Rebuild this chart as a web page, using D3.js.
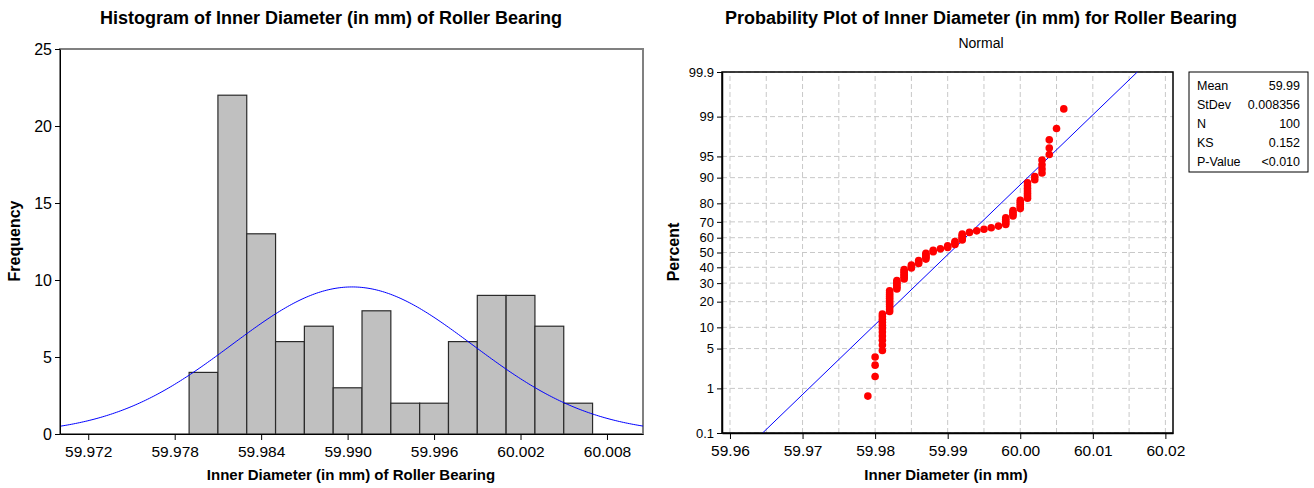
<!DOCTYPE html>
<html>
<head>
<meta charset="utf-8">
<script src="https://cdn.jsdelivr.net/npm/d3@7"></script>
<style>
body { margin: 0; background: #fff; }
text { font-family: "Liberation Sans", Arial, sans-serif; fill: #000; }
</style>
</head>
<body>
<svg id="chart" width="1314" height="488"></svg>
<script>
// histogram bins (start of each bin, width 0.002 mm) and frequencies
let binStarts = [59.979, 59.981, 59.983, 59.985, 59.987, 59.989, 59.991,
                 59.993, 59.995, 59.997, 59.999, 60.001, 60.003, 60.005]
let binCounts = [4, 22, 13, 6, 7, 3, 8, 2, 2, 6, 9, 9, 7, 2]
let binWidth = 0.002

// measured diameters and how many bearings had each value
let diameters = [59.979, 59.980, 59.981, 59.982, 59.983, 59.984, 59.985, 59.986, 59.987, 59.988,
                 59.989, 59.990, 59.991, 59.992, 59.993, 59.994, 59.995, 59.996, 59.997, 59.998,
                 59.999, 60.000, 60.001, 60.002, 60.003, 60.004, 60.005, 60.006]
let diameterCounts = [1, 3, 11, 11, 6, 7, 3, 3, 5, 2,
                      1, 2, 3, 5, 1, 1, 1, 1, 1, 5,
                      4, 5, 7, 2, 4, 3, 1, 1]

let histXTicks = [59.972, 59.978, 59.984, 59.990, 59.996, 60.002, 60.008]
let histYTicks = [0, 5, 10, 15, 20, 25]
let probXTicks = [59.96, 59.97, 59.98, 59.99, 60.00, 60.01, 60.02]
let probXGrid = [59.96, 59.965, 59.97, 59.975, 59.98, 59.985, 59.99, 59.995, 60.00, 60.005, 60.01, 60.015, 60.02]
let pctTicks = [0.1, 1, 5, 10, 20, 30, 40, 50, 60, 70, 80, 90, 95, 99, 99.9]

let statLabels = ['Mean', 'StDev', 'N', 'KS', 'P-Value']
let statValues = ['59.99', '0.008356', '100', '0.152', '<0.010']

let svg = d3.select('#chart')

// expand to the raw sample
let sample = []
diameters.forEach((d, i) => { for (let k = 0; k < diameterCounts[i]; k++) sample.push(d) })
let n = sample.length
let mean = d3.mean(sample)
let sd = d3.deviation(sample)

// inverse normal cdf (Acklam)
let probit = (p) => {
    let a = [-3.969683028665376e+01, 2.209460984245205e+02, -2.759285104469687e+02, 1.383577518672690e+02, -3.066479806614716e+01, 2.506628277459239e+00]
    let b = [-5.447609879822406e+01, 1.615858368580409e+02, -1.556989798598866e+02, 6.680131188771972e+01, -1.328068155288572e+01]
    let c = [-7.784894002430293e-03, -3.223964580411365e-01, -2.400758277161838e+00, -2.549732539343734e+00, 4.374664141464968e+00, 2.938163982698783e+00]
    let d = [7.784695709041462e-03, 3.224671290700398e-01, 2.445134137142996e+00, 3.754408661907416e+00]
    let pl = 0.02425
    if (p < pl) {
        let q = Math.sqrt(-2 * Math.log(p))
        return (((((c[0]*q+c[1])*q+c[2])*q+c[3])*q+c[4])*q+c[5]) / ((((d[0]*q+d[1])*q+d[2])*q+d[3])*q+1)
    }
    if (p > 1 - pl) {
        let q = Math.sqrt(-2 * Math.log(1 - p))
        return -(((((c[0]*q+c[1])*q+c[2])*q+c[3])*q+c[4])*q+c[5]) / ((((d[0]*q+d[1])*q+d[2])*q+d[3])*q+1)
    }
    let q = p - 0.5, r = q * q
    return (((((a[0]*r+a[1])*r+a[2])*r+a[3])*r+a[4])*r+a[5])*q / (((((b[0]*r+b[1])*r+b[2])*r+b[3])*r+b[4])*r+1)
}

// ---------------- histogram ----------------
let hx = d3.scaleLinear().domain([59.97004, 60.0105]).range([60, 643])
let hy = d3.scaleLinear().domain([0, 25]).range([434, 49])

let hist = svg.append('g')

hist.append('rect')
    .attr('x', hx.range()[0]).attr('y', hy(25))
    .attr('width', hx.range()[1] - hx.range()[0]).attr('height', hy(0) - hy(25))
    .attr('fill', 'none').attr('stroke', '#808080').attr('stroke-width', 2)

hist.selectAll('rect.bar')
    .data(binStarts)
    .enter()
    .append('rect')
    .attr('class', 'bar')
    .attr('x', (d) => hx(d))
    .attr('width', (d) => hx(d + binWidth) - hx(d))
    .attr('y', (d, i) => hy(binCounts[i]))
    .attr('height', (d, i) => hy(0) - hy(binCounts[i]))
    .attr('fill', '#c0c0c0')
    .attr('stroke', '#2a2a2a')
    .attr('stroke-width', 1.2)

// fitted normal curve, scaled to counts
let curveXs = d3.range(0, 301).map((i) => hx.domain()[0] + (hx.domain()[1] - hx.domain()[0]) * i / 300)
let normalLine = d3.line()
    .x((d) => hx(d))
    .y((d) => hy(n * binWidth * Math.exp(-0.5 * ((d - mean) / sd) ** 2) / (sd * Math.sqrt(2 * Math.PI))))
hist.append('path')
    .attr('d', normalLine(curveXs))
    .attr('fill', 'none').attr('stroke', '#0000ff').attr('stroke-width', 1)

let hxAxis = hist.append('g')
    .attr('transform', 'translate(0,' + hy(0) + ')')
    .call(d3.axisBottom(hx).tickValues(histXTicks).tickFormat(d3.format('.3f')).tickSize(6).tickSizeOuter(0))
let hyAxis = hist.append('g')
    .attr('transform', 'translate(' + hx.range()[0] + ',0)')
    .call(d3.axisLeft(hy).tickValues(histYTicks).tickSize(5).tickSizeOuter(0))
hxAxis.selectAll('text').attr('font-size', 15.5).attr('dy', '0.9em')
hyAxis.selectAll('text').attr('font-size', 16)
hist.selectAll('.domain').attr('stroke', '#000')
hist.selectAll('.tick line').attr('stroke', '#000')

hist.append('text').text('Histogram of Inner Diameter (in mm) of Roller Bearing')
    .attr('x', 331).attr('y', 24).attr('text-anchor', 'middle')
    .attr('font-size', 18).attr('font-weight', 'bold')
hist.append('text').text('Inner Diameter (in mm) of Roller Bearing')
    .attr('x', 351).attr('y', 480).attr('text-anchor', 'middle')
    .attr('font-size', 15).attr('font-weight', 'bold')
hist.append('text').text('Frequency')
    .attr('transform', 'translate(20,241) rotate(-90)').attr('text-anchor', 'middle')
    .attr('font-size', 16).attr('font-weight', 'bold')

// ---------------- probability plot ----------------
let px = d3.scaleLinear().domain([59.9589, 60.02105]).range([722, 1173])
let pz = d3.scaleLinear().domain([probit(0.001), probit(0.999)]).range([433, 72])
let py = (pct) => pz(probit(pct / 100))

let prob = svg.append('g')

prob.selectAll('line.vgrid')
    .data(probXGrid)
    .enter()
    .append('line')
    .attr('x1', (d) => px(d)).attr('x2', (d) => px(d))
    .attr('y1', pz.range()[0]).attr('y2', pz.range()[1])
    .attr('stroke', '#c8c8c8').attr('stroke-dasharray', '5,3')
prob.selectAll('line.hgrid')
    .data(pctTicks)
    .enter()
    .append('line')
    .attr('x1', px.range()[0]).attr('x2', px.range()[1])
    .attr('y1', (d) => py(d)).attr('y2', (d) => py(d))
    .attr('stroke', '#c8c8c8').attr('stroke-dasharray', '5,3')

prob.append('rect')
    .attr('x', px.range()[0]).attr('y', pz.range()[1])
    .attr('width', px.range()[1] - px.range()[0]).attr('height', pz.range()[0] - pz.range()[1])
    .attr('fill', 'none').attr('stroke', '#000').attr('stroke-width', 1.5)

// fitted line: x = mean + sd * z
let zEnds = pz.domain()
prob.append('line')
    .attr('x1', px(mean + sd * zEnds[0])).attr('y1', pz(zEnds[0]))
    .attr('x2', px(mean + sd * zEnds[1])).attr('y2', pz(zEnds[1]))
    .attr('stroke', '#0000ff').attr('stroke-width', 1)

// points at median ranks
let sorted = sample.slice().sort(d3.ascending)
prob.selectAll('circle')
    .data(sorted)
    .enter()
    .append('circle')
    .attr('cx', (d) => px(d))
    .attr('cy', (d, i) => py((i + 1 - 0.3) / (n + 0.4) * 100))
    .attr('r', 3.8)
    .attr('fill', '#ff0000')

let pxAxis = prob.append('g')
    .attr('transform', 'translate(0,' + pz.range()[0] + ')')
    .call(d3.axisBottom(px).tickValues(probXTicks).tickFormat(d3.format('.2f')).tickSize(6).tickSizeOuter(0))
let pyAxis = prob.append('g')
    .attr('transform', 'translate(' + px.range()[0] + ',0)')
    .call(d3.axisLeft(d3.scaleLinear().domain(pz.domain()).range(pz.range()))
        .tickValues(pctTicks.map((d) => probit(d / 100)))
        .tickFormat((d, i) => pctTicks[i])
        .tickSize(5).tickSizeOuter(0))
pxAxis.selectAll('text').attr('font-size', 15.5).attr('dy', '0.9em')
pyAxis.selectAll('text').attr('font-size', 13)
prob.selectAll('.domain').attr('stroke', '#000').attr('stroke-width', 1.5)
prob.selectAll('.tick line').attr('stroke', '#000')

prob.append('text').text('Probability Plot of Inner Diameter (in mm) for Roller Bearing')
    .attr('x', 981).attr('y', 24).attr('text-anchor', 'middle')
    .attr('font-size', 18).attr('font-weight', 'bold')
prob.append('text').text('Normal')
    .attr('x', 981).attr('y', 48).attr('text-anchor', 'middle')
    .attr('font-size', 14)
prob.append('text').text('Inner Diameter (in mm)')
    .attr('x', 946).attr('y', 480).attr('text-anchor', 'middle')
    .attr('font-size', 15).attr('font-weight', 'bold')
prob.append('text').text('Percent')
    .attr('transform', 'translate(679,252) rotate(-90)').attr('text-anchor', 'middle')
    .attr('font-size', 16).attr('font-weight', 'bold')

// stats box
let box = svg.append('g')
box.append('rect')
    .attr('x', 1189).attr('y', 72).attr('width', 119).attr('height', 100)
    .attr('fill', '#fff').attr('stroke', '#000').attr('stroke-width', 1)
box.selectAll('text.lab')
    .data(statLabels)
    .enter()
    .append('text')
    .attr('x', 1197).attr('y', (d, i) => 90 + i * 19)
    .attr('font-size', 12.5)
    .text((d) => d)
box.selectAll('text.val')
    .data(statValues)
    .enter()
    .append('text')
    .attr('x', 1300).attr('y', (d, i) => 90 + i * 19)
    .attr('font-size', 12.5).attr('text-anchor', 'end')
    .text((d) => d)
</script>
</body>
</html>
